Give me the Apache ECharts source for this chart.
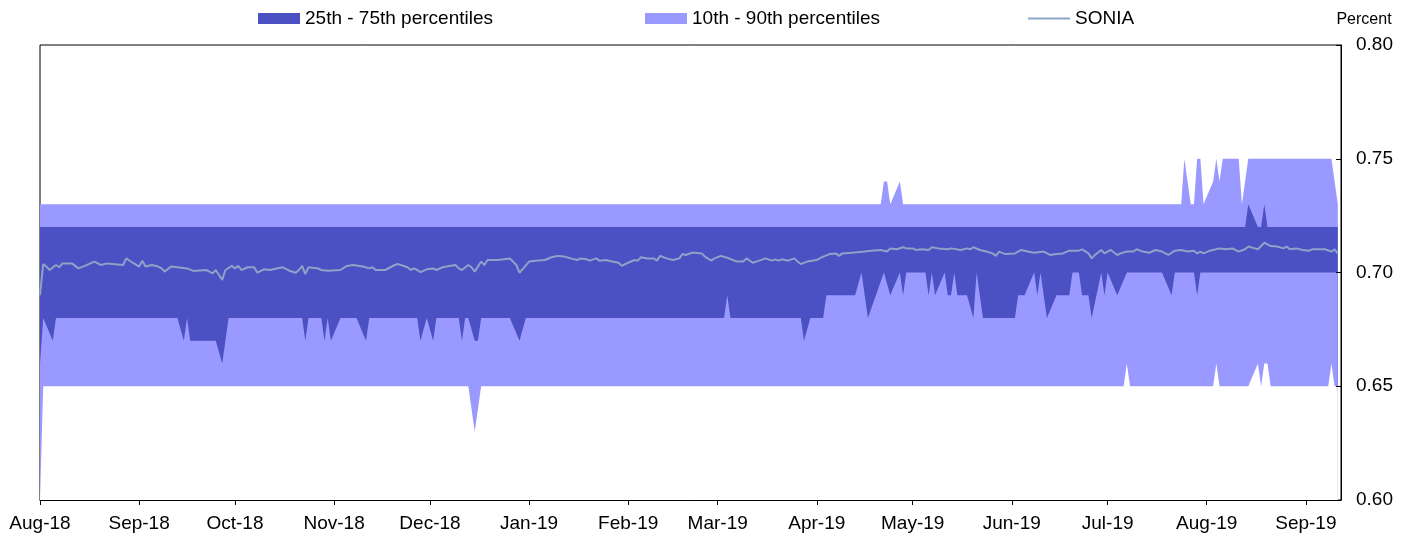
<!DOCTYPE html>
<html>
<head>
<meta charset="utf-8">
<title>SONIA and its percentiles</title>
<script src="https://cdn.jsdelivr.net/npm/echarts@6/dist/echarts.min.js"></script>
<style>
  html, body { margin: 0; padding: 0; background: #fff; }
  #main { width: 1410px; height: 537px; }
</style>
</head>
<body>
<div id="main"></div>
<script>
var monthNames = ['Jan', 'Feb', 'Mar', 'Apr', 'May', 'Jun', 'Jul', 'Aug', 'Sep', 'Oct', 'Nov', 'Dec'];

// percentiles, [date, percent], listed where the value turns
var p90 = [
  ['2018-08-01', 0.73], ['2019-04-21', 0.73], ['2019-04-22', 0.74], ['2019-04-23', 0.74],
  ['2019-04-24', 0.73], ['2019-04-27', 0.74], ['2019-04-28', 0.73], ['2019-07-24', 0.73],
  ['2019-07-25', 0.75], ['2019-07-27', 0.73], ['2019-07-28', 0.73], ['2019-07-29', 0.75],
  ['2019-07-30', 0.75], ['2019-07-31', 0.73], ['2019-08-03', 0.74], ['2019-08-04', 0.75],
  ['2019-08-05', 0.74], ['2019-08-06', 0.75], ['2019-08-11', 0.75], ['2019-08-12', 0.73],
  ['2019-08-14', 0.75], ['2019-09-09', 0.75], ['2019-09-10', 0.74], ['2019-09-11', 0.73]
];

var p75 = [
  ['2018-08-01', 0.72], ['2019-08-13', 0.72], ['2019-08-14', 0.73], ['2019-08-17', 0.72],
  ['2019-08-18', 0.72], ['2019-08-19', 0.73], ['2019-08-20', 0.72], ['2019-09-11', 0.72]
];

var p25 = [
  ['2018-08-01', 0.66], ['2018-08-02', 0.68], ['2018-08-05', 0.67], ['2018-08-06', 0.68],
  ['2018-09-13', 0.68], ['2018-09-15', 0.67], ['2018-09-16', 0.68], ['2018-09-17', 0.67],
  ['2018-09-25', 0.67], ['2018-09-27', 0.66], ['2018-09-29', 0.68],
  ['2018-10-22', 0.68], ['2018-10-23', 0.67], ['2018-10-24', 0.68],
  ['2018-10-28', 0.68], ['2018-10-29', 0.67], ['2018-10-30', 0.68], ['2018-10-31', 0.67],
  ['2018-11-03', 0.68], ['2018-11-08', 0.68], ['2018-11-11', 0.67], ['2018-11-12', 0.68],
  ['2018-11-27', 0.68], ['2018-11-28', 0.67], ['2018-11-30', 0.68],
  ['2018-12-02', 0.67], ['2018-12-03', 0.68],
  ['2018-12-10', 0.68], ['2018-12-11', 0.67], ['2018-12-12', 0.68],
  ['2018-12-13', 0.68], ['2018-12-15', 0.67], ['2018-12-16', 0.67], ['2018-12-17', 0.68],
  ['2018-12-26', 0.68], ['2018-12-29', 0.67], ['2018-12-31', 0.68],
  ['2019-03-03', 0.68], ['2019-03-04', 0.69], ['2019-03-05', 0.68],
  ['2019-03-27', 0.68], ['2019-03-28', 0.67], ['2019-03-30', 0.68],
  ['2019-04-03', 0.68], ['2019-04-04', 0.69], ['2019-04-13', 0.69], ['2019-04-15', 0.70],
  ['2019-04-17', 0.68], ['2019-04-22', 0.70], ['2019-04-24', 0.69], ['2019-04-27', 0.70],
  ['2019-04-28', 0.69], ['2019-04-29', 0.70],
  ['2019-05-05', 0.70], ['2019-05-06', 0.69], ['2019-05-07', 0.70], ['2019-05-08', 0.69],
  ['2019-05-11', 0.70], ['2019-05-12', 0.69], ['2019-05-13', 0.69], ['2019-05-14', 0.70],
  ['2019-05-15', 0.69], ['2019-05-18', 0.69], ['2019-05-20', 0.68], ['2019-05-21', 0.70],
  ['2019-05-23', 0.68],
  ['2019-06-02', 0.68], ['2019-06-03', 0.69], ['2019-06-05', 0.69], ['2019-06-08', 0.70],
  ['2019-06-09', 0.69], ['2019-06-10', 0.70], ['2019-06-12', 0.68], ['2019-06-15', 0.69],
  ['2019-06-19', 0.69], ['2019-06-20', 0.70], ['2019-06-22', 0.70], ['2019-06-23', 0.69],
  ['2019-06-25', 0.69], ['2019-06-26', 0.68], ['2019-06-29', 0.70], ['2019-06-30', 0.69],
  ['2019-07-01', 0.70], ['2019-07-04', 0.69], ['2019-07-07', 0.70],
  ['2019-07-18', 0.70], ['2019-07-21', 0.69], ['2019-07-22', 0.70],
  ['2019-07-28', 0.70], ['2019-07-29', 0.69], ['2019-07-30', 0.70], ['2019-09-11', 0.70]
];

var p10 = [
  ['2018-08-01', 0.60], ['2018-08-02', 0.65],
  ['2018-12-13', 0.65], ['2018-12-15', 0.63], ['2018-12-17', 0.65],
  ['2019-07-06', 0.65], ['2019-07-07', 0.66], ['2019-07-08', 0.65],
  ['2019-08-03', 0.65], ['2019-08-04', 0.66], ['2019-08-05', 0.65],
  ['2019-08-14', 0.65], ['2019-08-17', 0.66], ['2019-08-18', 0.65], ['2019-08-19', 0.66],
  ['2019-08-20', 0.66], ['2019-08-21', 0.65],
  ['2019-09-08', 0.65], ['2019-09-09', 0.66], ['2019-09-10', 0.65], ['2019-09-11', 0.65]
];

// SONIA fixing
var sonia = [
  ['2018-08-01', 0.6900], ['2018-08-02', 0.7037], ['2018-08-03', 0.7026], ['2018-08-04', 0.7011],
  ['2018-08-06', 0.7033], ['2018-08-07', 0.7023], ['2018-08-08', 0.7040], ['2018-08-11', 0.7040],
  ['2018-08-13', 0.7018], ['2018-08-15', 0.7029], ['2018-08-18', 0.7048], ['2018-08-20', 0.7033],
  ['2018-08-22', 0.7040], ['2018-08-27', 0.7033], ['2018-08-28', 0.7062], ['2018-08-30', 0.7043],
  ['2018-09-01', 0.7026], ['2018-09-02', 0.7052], ['2018-09-03', 0.7026], ['2018-09-05', 0.7033],
  ['2018-09-07', 0.7026], ['2018-09-08', 0.7018], ['2018-09-09', 0.7004], ['2018-09-11', 0.7026],
  ['2018-09-13', 0.7023], ['2018-09-16', 0.7018], ['2018-09-18', 0.7007], ['2018-09-22', 0.7011],
  ['2018-09-23', 0.7004], ['2018-09-24', 0.6996], ['2018-09-25', 0.7011], ['2018-09-27', 0.6967],
  ['2018-09-28', 0.7011], ['2018-09-30', 0.7029], ['2018-10-01', 0.7018], ['2018-10-02', 0.7029],
  ['2018-10-03', 0.7011], ['2018-10-05', 0.7023], ['2018-10-07', 0.7023], ['2018-10-08', 0.6999],
  ['2018-10-10', 0.7014], ['2018-10-12', 0.7011], ['2018-10-14', 0.7018], ['2018-10-16', 0.7023],
  ['2018-10-18', 0.7008], ['2018-10-20', 0.6999], ['2018-10-21', 0.7011], ['2018-10-22', 0.7029],
  ['2018-10-23', 0.6993], ['2018-10-24', 0.7023], ['2018-10-27', 0.7018], ['2018-10-28', 0.7011],
  ['2018-10-30', 0.7008], ['2018-11-03', 0.7011], ['2018-11-05', 0.7029], ['2018-11-07', 0.7033],
  ['2018-11-10', 0.7026], ['2018-11-12', 0.7018], ['2018-11-13', 0.7023], ['2018-11-14', 0.7011],
  ['2018-11-17', 0.7011], ['2018-11-20', 0.7033], ['2018-11-21', 0.7037], ['2018-11-24', 0.7023],
  ['2018-11-25', 0.7011], ['2018-11-26', 0.7018], ['2018-11-27', 0.7011], ['2018-11-28', 0.7002],
  ['2018-11-30', 0.7014], ['2018-12-02', 0.7018], ['2018-12-03', 0.7011], ['2018-12-05', 0.7023],
  ['2018-12-07', 0.7029], ['2018-12-09', 0.7033], ['2018-12-10', 0.7018], ['2018-12-11', 0.7011],
  ['2018-12-13', 0.7033], ['2018-12-14', 0.7023], ['2018-12-15', 0.7004], ['2018-12-17', 0.7048],
  ['2018-12-18', 0.7033], ['2018-12-19', 0.7055], ['2018-12-22', 0.7055], ['2018-12-24', 0.7058],
  ['2018-12-26', 0.7062], ['2018-12-28', 0.7033], ['2018-12-29', 0.6999], ['2019-01-01', 0.7048],
  ['2019-01-03', 0.7052], ['2019-01-06', 0.7055], ['2019-01-08', 0.7067], ['2019-01-10', 0.7073],
  ['2019-01-12', 0.7070], ['2019-01-14', 0.7062], ['2019-01-16', 0.7055], ['2019-01-17', 0.7062],
  ['2019-01-19', 0.7058], ['2019-01-20', 0.7052], ['2019-01-22', 0.7062], ['2019-01-23', 0.7052],
  ['2019-01-25', 0.7055], ['2019-01-27', 0.7048], ['2019-01-29', 0.7043], ['2019-01-30', 0.7029],
  ['2019-02-01', 0.7043], ['2019-02-03', 0.7055], ['2019-02-04', 0.7052], ['2019-02-05', 0.7067],
  ['2019-02-07', 0.7062], ['2019-02-09', 0.7062], ['2019-02-10', 0.7052], ['2019-02-11', 0.7073],
  ['2019-02-13', 0.7062], ['2019-02-15', 0.7055], ['2019-02-17', 0.7062], ['2019-02-18', 0.7081],
  ['2019-02-19', 0.7077], ['2019-02-21', 0.7087], ['2019-02-22', 0.7087], ['2019-02-24', 0.7084],
  ['2019-02-25', 0.7070], ['2019-02-27', 0.7052], ['2019-02-28', 0.7062], ['2019-03-02', 0.7073],
  ['2019-03-04', 0.7065], ['2019-03-07', 0.7048], ['2019-03-09', 0.7048], ['2019-03-10', 0.7062],
  ['2019-03-12', 0.7043], ['2019-03-14', 0.7052], ['2019-03-16', 0.7062], ['2019-03-18', 0.7052],
  ['2019-03-19', 0.7058], ['2019-03-20', 0.7052], ['2019-03-21', 0.7058], ['2019-03-23', 0.7052],
  ['2019-03-25', 0.7062], ['2019-03-26', 0.7048], ['2019-03-27', 0.7037], ['2019-03-29', 0.7048],
  ['2019-04-01', 0.7055], ['2019-04-03', 0.7070], ['2019-04-05', 0.7081], ['2019-04-07', 0.7084],
  ['2019-04-08', 0.7073], ['2019-04-09', 0.7084], ['2019-04-12', 0.7087], ['2019-04-16', 0.7092],
  ['2019-04-18', 0.7096], ['2019-04-21', 0.7099], ['2019-04-23', 0.7092], ['2019-04-24', 0.7106],
  ['2019-04-26', 0.7102], ['2019-04-28', 0.7111], ['2019-04-29', 0.7106], ['2019-05-01', 0.7106],
  ['2019-05-02', 0.7099], ['2019-05-04', 0.7102], ['2019-05-06', 0.7099], ['2019-05-07', 0.7111],
  ['2019-05-09', 0.7106], ['2019-05-12', 0.7102], ['2019-05-13', 0.7106], ['2019-05-16', 0.7099],
  ['2019-05-18', 0.7106], ['2019-05-19', 0.7102], ['2019-05-20', 0.7111], ['2019-05-22', 0.7099],
  ['2019-05-24', 0.7092], ['2019-05-26', 0.7084], ['2019-05-27', 0.7073], ['2019-05-28', 0.7092],
  ['2019-05-30', 0.7081], ['2019-06-02', 0.7084], ['2019-06-04', 0.7099], ['2019-06-06', 0.7092],
  ['2019-06-08', 0.7087], ['2019-06-11', 0.7092], ['2019-06-13', 0.7077], ['2019-06-15', 0.7081],
  ['2019-06-17', 0.7084], ['2019-06-19', 0.7096], ['2019-06-22', 0.7096], ['2019-06-23', 0.7102],
  ['2019-06-25', 0.7084], ['2019-06-26', 0.7062], ['2019-06-27', 0.7077], ['2019-06-29', 0.7099],
  ['2019-06-30', 0.7084], ['2019-07-02', 0.7099], ['2019-07-04', 0.7077], ['2019-07-05', 0.7084],
  ['2019-07-07', 0.7092], ['2019-07-09', 0.7092], ['2019-07-10', 0.7102], ['2019-07-12', 0.7092],
  ['2019-07-14', 0.7087], ['2019-07-16', 0.7099], ['2019-07-18', 0.7092], ['2019-07-20', 0.7077],
  ['2019-07-22', 0.7096], ['2019-07-24', 0.7099], ['2019-07-26', 0.7092], ['2019-07-28', 0.7096],
  ['2019-07-29', 0.7084], ['2019-07-30', 0.7092], ['2019-07-31', 0.7084], ['2019-08-02', 0.7096],
  ['2019-08-05', 0.7106], ['2019-08-07', 0.7102], ['2019-08-09', 0.7106], ['2019-08-11', 0.7092],
  ['2019-08-13', 0.7102], ['2019-08-14', 0.7114], ['2019-08-16', 0.7106], ['2019-08-17', 0.7102],
  ['2019-08-19', 0.7131], ['2019-08-21', 0.7116], ['2019-08-23', 0.7114], ['2019-08-25', 0.7106],
  ['2019-08-26', 0.7114], ['2019-08-27', 0.7102], ['2019-08-29', 0.7106], ['2019-08-31', 0.7099],
  ['2019-09-02', 0.7096], ['2019-09-03', 0.7102], ['2019-09-06', 0.7102], ['2019-09-07', 0.7102],
  ['2019-09-09', 0.7092], ['2019-09-10', 0.7102], ['2019-09-11', 0.7084]
];

var darkBlue = '#4B50C2';
var lightBlue = '#9999FF';
var soniaColor = '#8DA3C8';
var font = 'Liberation Sans, Arial, sans-serif';
var DAY = 24 * 3600 * 1000;

// bands are painted on top of each other, each filled down to the axis
function band(name, data, color, z) {
  return {
    name: name,
    type: 'line',
    data: data,
    z: z,
    color: color,
    symbol: 'none',
    silent: true,
    lineStyle: { width: 0, color: color },
    areaStyle: { color: color, opacity: 1, origin: 'start' }
  };
}

function legendAt(left, name, color, h) {
  return {
    left: left,
    top: 9,
    padding: 0,
    itemWidth: 42,
    itemHeight: h,
    itemGap: 5,
    selectedMode: false,
    textStyle: { fontFamily: font, fontSize: 19, color: '#000' },
    data: [{ name: name, icon: 'rect', itemStyle: { color: color, borderWidth: 0 } }]
  };
}

var chart = echarts.init(document.getElementById('main'), null, { renderer: 'canvas' });

var option = {
  animation: false,
  backgroundColor: '#fff',
  legend: [
    legendAt(258, '25th - 75th percentiles', darkBlue, 11),
    legendAt(645, '10th - 90th percentiles', lightBlue, 11),
    legendAt(1028, 'SONIA', soniaColor, 2)
  ],
  grid: {
    left: 40, right: 69, top: 45, bottom: 37,
    show: true, borderColor: '#000', borderWidth: 1, backgroundColor: 'transparent'
  },
  xAxis: {
    type: 'time',
    min: '2018-08-01',
    max: '2019-09-12',
    minInterval: 28 * DAY,
    maxInterval: 31 * DAY,
    z: 10,
    axisLine: { show: true, lineStyle: { color: '#000', width: 1 } },
    axisTick: { show: true, length: 5, lineStyle: { color: '#000' } },
    axisLabel: {
      margin: 14,
      fontFamily: font, fontSize: 19, color: '#000',
      hideOverlap: false,
      formatter: function (val) {
        var d = new Date(val);
        return monthNames[d.getMonth()] + '-' + String(d.getFullYear()).slice(2);
      }
    },
    splitLine: { show: false }
  },
  yAxis: {
    type: 'value',
    position: 'right',
    min: 0.60,
    max: 0.80,
    interval: 0.05,
    z: 10,
    name: 'Percent',
    nameLocation: 'end',
    nameGap: 17,
    nameTextStyle: { fontFamily: font, fontSize: 16, color: '#000', padding: [0, 0, 0, 46] },
    axisLine: { show: true, lineStyle: { color: '#000', width: 1 } },
    axisTick: { show: true, inside: true, length: 5, lineStyle: { color: '#000' } },
    axisLabel: {
      margin: 15,
      fontFamily: font, fontSize: 19, color: '#000',
      formatter: function (v) { return v.toFixed(2); }
    },
    splitLine: { show: false }
  },
  series: [
    band('10th - 90th percentiles', p90, lightBlue, 1),
    band('25th - 75th percentiles', p75, darkBlue, 2),
    band('p25', p25, lightBlue, 3),
    band('p10', p10, '#FFFFFF', 4),
    {
      name: 'SONIA',
      type: 'line',
      data: sonia,
      z: 5,
      color: soniaColor,
      symbol: 'none',
      silent: true,
      lineStyle: { width: 2, color: soniaColor }
    }
  ]
};

chart.setOption(option);
</script>
</body>
</html>
